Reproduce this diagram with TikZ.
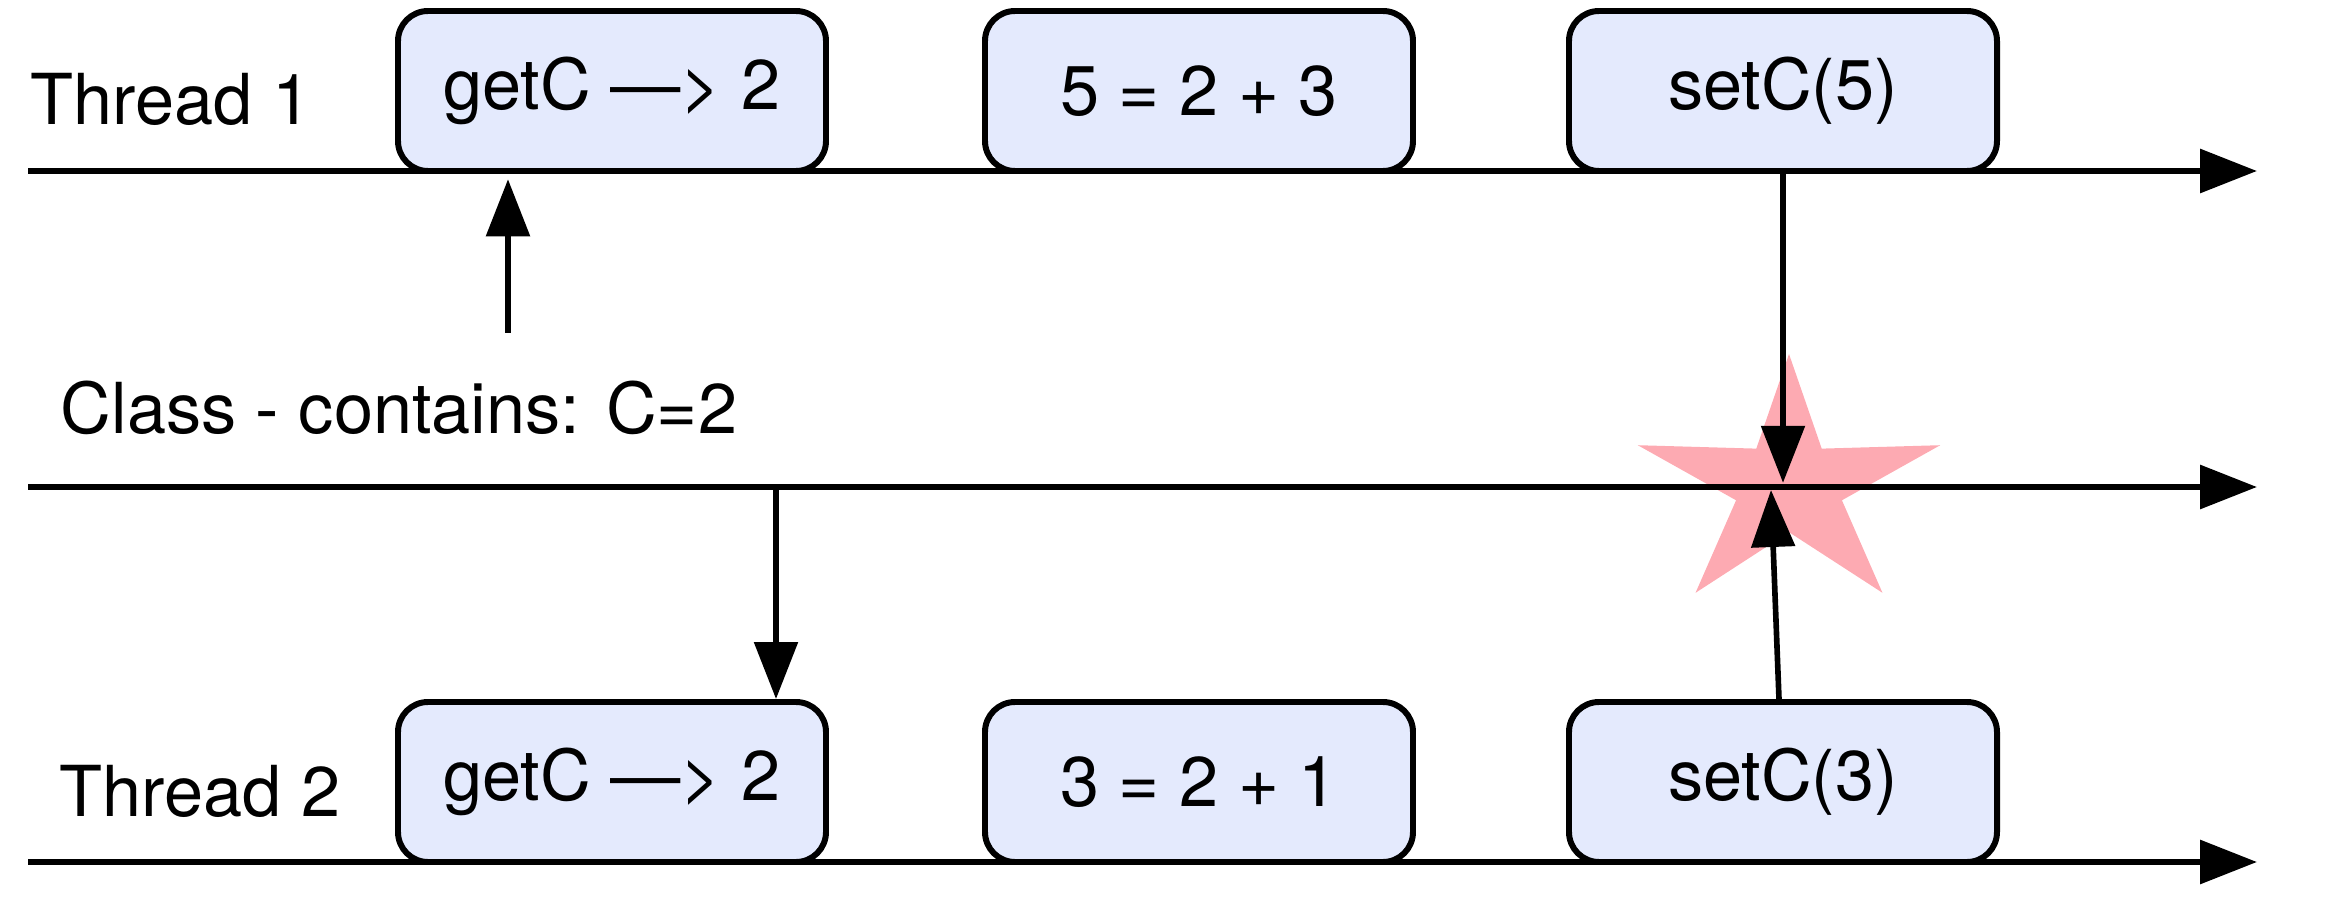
\documentclass[tikz,border=0pt]{standalone}
\usepackage{fontspec}
\setmainfont{TeX Gyre Heros}
\usepackage{xcolor}
\usetikzlibrary{arrows.meta,positioning,calc}
\definecolor{boxblue}{RGB}{228,234,253}
\definecolor{starpink}{RGB}{253,170,178}

\begin{document}
\begin{tikzpicture}[>={Triangle[length=0.57cm,width=0.43cm]},
	lane/.style={line width=1.8pt,->},
	msg/.style={line width=1.6pt,->},
	opbox/.style={draw,line width=1.7pt,fill=boxblue,rounded corners=0.3cm,minimum width=4.28cm,minimum height=1.6cm,font=\fontsize{20}{24}\selectfont},
	lbl/.style={anchor=base west,inner sep=0pt,font=\fontsize{20}{24}\selectfont}]
	\useasboundingbox (0,0) rectangle (23.37,8.97);
	% the clash
	\begin{scope}[shift={(17.89,4.11)},xscale=1.59,yscale=1.32]
		\fill[starpink] (90:1) \foreach \a in {0,...,4}{ -- ({126+72*\a}:0.35) -- ({162+72*\a}:1)} -- cycle;
	\end{scope}
	% time lines
	\foreach \y/\n in {7.26/t1,4.10/cl,0.35/t2}{
		\coordinate (\n w) at (0.28,\y);
		\coordinate (\n e) at (22.57,\y);
		\draw[lane] (\n w) -- (\n e);}
	\node[lbl] (lt1) at (0.30,7.72) {Thread 1};
	\node[lbl] (lcl) at (0.60,4.63) {Class - contains: C=2};
	\node[lbl] (lt2) at (0.59,0.81) {Thread 2};
	% steps
	\foreach \x/\n/\t in {6.12/g1/getC ---> 2, 11.99/a1/5 = 2 + 3, 17.83/s1/setC(5)}
		{\node[opbox] (\n) at (\x,8.06) {\t};}
	\foreach \x/\n/\t in {6.12/g2/getC ---> 2, 11.99/a2/3 = 2 + 1, 17.83/s2/setC(3)}
		{\node[opbox] (\n) at (\x,1.15) {\t};}
	% reads and writes
	\coordinate (r1) at (5.08,5.64);
	\coordinate (r2) at (7.76,4.10);
	\coordinate (hit) at (17.71,4.07);
	\draw[msg,shorten >=1.5pt] (r1) -- (r1 |- g1.south);
	\draw[msg] (r2) -- (r2 |- g2.north);
	\draw[msg,shorten >=1.2pt] (s1.south) -- (s1.south |- cle);
	\draw[msg] ($(s2.north)+(-0.04,0)$) -- (hit);
\end{tikzpicture}
\end{document}
